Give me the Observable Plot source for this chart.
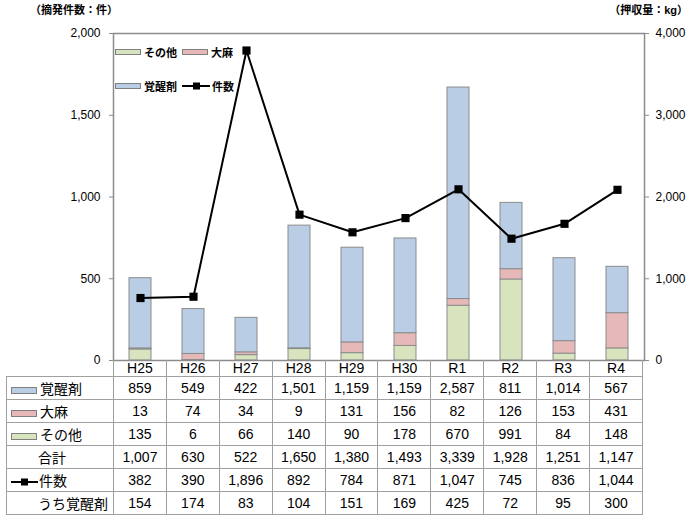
<!DOCTYPE html>
<html><head><meta charset="utf-8">
<script src="https://cdn.jsdelivr.net/npm/d3@7"></script>
<script src="https://cdn.jsdelivr.net/npm/@observablehq/plot@0.6"></script>
<style>
body{margin:0;background:#fff;font-family:"Liberation Sans","Noto Sans CJK JP",sans-serif;}
#wrap{position:relative;width:690px;height:520px;overflow:hidden;}
.abs{position:absolute;white-space:nowrap;}
.ttl{font-size:11px;font-weight:bold;color:#000;}
.lg{font-size:11px;font-weight:bold;display:flex;align-items:center;}
.sw{display:inline-block;width:24px;height:4px;border:1px solid #808080;margin-right:3px;}
table{border-collapse:collapse;table-layout:fixed;font-size:14px;}
td{border:1px solid #a0a0a0;padding:0;text-align:center;height:22px;overflow:hidden;}
td.lab{text-align:left;padding-left:4px;}
td.lab span.s{display:inline-block;width:24px;height:5px;border:1px solid #808080;vertical-align:middle;margin-right:3px;}
tr.hd td{height:16px;border-top:none;}
tr.hd td.empty{border:none;}
</style></head>
<body><div id="wrap"></div>
<script>
const cats = ["H25","H26","H27","H28","H29","H30","R1","R2","R3","R4"];
const meth = [859,549,422,1501,1159,1159,2587,811,1014,567];
const cannabis = [13,74,34,9,131,156,82,126,153,431];
const other = [135,6,66,140,90,178,670,991,84,148];
const total = [1007,630,522,1650,1380,1493,3339,1928,1251,1147];
const cases = [382,390,1896,892,784,871,1047,745,836,1044];
const methCases = [154,174,83,104,151,169,425,72,95,300];
const leftTicks = [0,500,1000,1500,2000];
const rightTicks = [0,1000,2000,3000,4000];
const seriesNames = ["その他","大麻","覚醒剤"];
const colors = {"その他":"#d7e4bd","大麻":"#e6b9b8","覚醒剤":"#b9cde5"};

const stacked = [];
cats.forEach((c,i)=>{
  stacked.push({cat:c, s:"その他", v:other[i]});
  stacked.push({cat:c, s:"大麻", v:cannabis[i]});
  stacked.push({cat:c, s:"覚醒剤", v:meth[i]});
});
const lineData = cats.map((c,i)=>({cat:c, v:cases[i]}));
const fmt = d3.format(",");

const W = 690;
const chart = Plot.plot({
  width: W, height: 372,
  marginLeft: 113, marginRight: 46, marginTop: 33, marginBottom: 12,
  style: {fontFamily: '"Liberation Sans","Noto Sans CJK JP",sans-serif', fontSize: "12px", overflow: "visible", background: "transparent"},
  x: {domain: cats, paddingInner: 0.58, paddingOuter: 0.29, axis: null},
  y: {domain: [0, 2000], axis: null, label: null},
  color: {domain: seriesNames, range: seriesNames.map(s=>colors[s])},
  marks: [
    Plot.barY(stacked, Plot.stackY({x: "cat", y: d => d.v / 2, fill: "s", stroke: "#8c8c8c", strokeWidth: 1, order: null})),
    Plot.line(lineData, {x: "cat", y: "v", stroke: "#000", strokeWidth: 2}),
    Plot.dot(lineData, {x: "cat", y: "v", symbol: "square", r: 4.6, fill: "#000", stroke: "none"}),
    Plot.frame({stroke: "#8c8c8c", strokeWidth: 1.5}),
    Plot.axisY({anchor: "left", label: null, ticks: leftTicks, tickFormat: fmt, tickSize: 4, tickPadding: 9, stroke: "#8c8c8c", fill: "#000", fontSize: 12}),
    Plot.axisY({anchor: "right", label: null, ticks: rightTicks.map(t=>t/2), tickFormat: d => fmt(d*2), tickSize: 4, tickPadding: 7, stroke: "#8c8c8c", fill: "#000", fontSize: 12})
  ]
});
chart.style.position = "absolute"; chart.style.left = "0px"; chart.style.top = "0px";
const wrap = document.getElementById("wrap");
wrap.appendChild(chart);

function addDiv(cls, html, left, top, extra) {
  const d = document.createElement("div");
  d.className = "abs " + cls;
  d.innerHTML = html;
  if (left !== null) d.style.left = left + "px";
  d.style.top = top + "px";
  if (extra) Object.assign(d.style, extra);
  wrap.appendChild(d);
  return d;
}
addDiv("ttl", "（摘発件数：件）", 30, 1);
addDiv("ttl", "（押収量：kg）", null, 1, {right: "2px"});

// legend in plot
function sw(name){return `<span class="sw" style="background:${colors[name]}"></span>`;}
const lineKey = `<svg width="28" height="8" style="margin-right:2px"><line x1="0" x2="28" y1="4" y2="4" stroke="#000" stroke-width="2"/><rect x="11" y="0.5" width="7" height="7" fill="#000"/></svg>`;
addDiv("lg", sw("その他") + "その他", 115, 44);
addDiv("lg", sw("大麻") + "大麻", 182, 44);
addDiv("lg", sw("覚醒剤") + "覚醒剤", 115, 78);
addDiv("lg", lineKey + "件数", 182, 78);

// data table
const xs = chart.scale("x");
const step = xs.step;
const tableLeft = 6;
const labW = 113 - tableLeft;
const rows = [
  {key: `<span class="s" style="background:${colors["覚醒剤"]}"></span>`, name: "覚醒剤", vals: meth},
  {key: `<span class="s" style="background:${colors["大麻"]}"></span>`, name: "大麻", vals: cannabis},
  {key: `<span class="s" style="background:${colors["その他"]}"></span>`, name: "その他", vals: other},
  {key: `<span style="display:inline-block;width:27px"></span>`, name: "合計", vals: total},
  {key: `<svg width="27" height="8" style="vertical-align:middle;margin-right:1px"><line x1="0" x2="27" y1="4" y2="4" stroke="#000" stroke-width="2"/><rect x="10" y="0.5" width="7" height="7" fill="#000"/></svg>`, name: "件数", vals: cases},
  {key: `<span style="display:inline-block;width:27px"></span>`, name: "うち覚醒剤", vals: methCases}
];
let html = `<table><colgroup><col style="width:${labW}px">` + cats.map(()=>`<col style="width:${step}px">`).join("") + `</colgroup>`;
html += `<tr class="hd"><td class="empty"></td>` + cats.map(c=>`<td>${c}</td>`).join("") + `</tr>`;
for (const r of rows) {
  html += `<tr><td class="lab">${r.key}${r.name}</td>` + r.vals.map(v=>`<td>${fmt(v)}</td>`).join("") + `</tr>`;
}
html += `</table>`;
const tdiv = addDiv("", html, tableLeft, 360);
tdiv.style.width = (labW + step*cats.length) + "px";
</script></body></html>
